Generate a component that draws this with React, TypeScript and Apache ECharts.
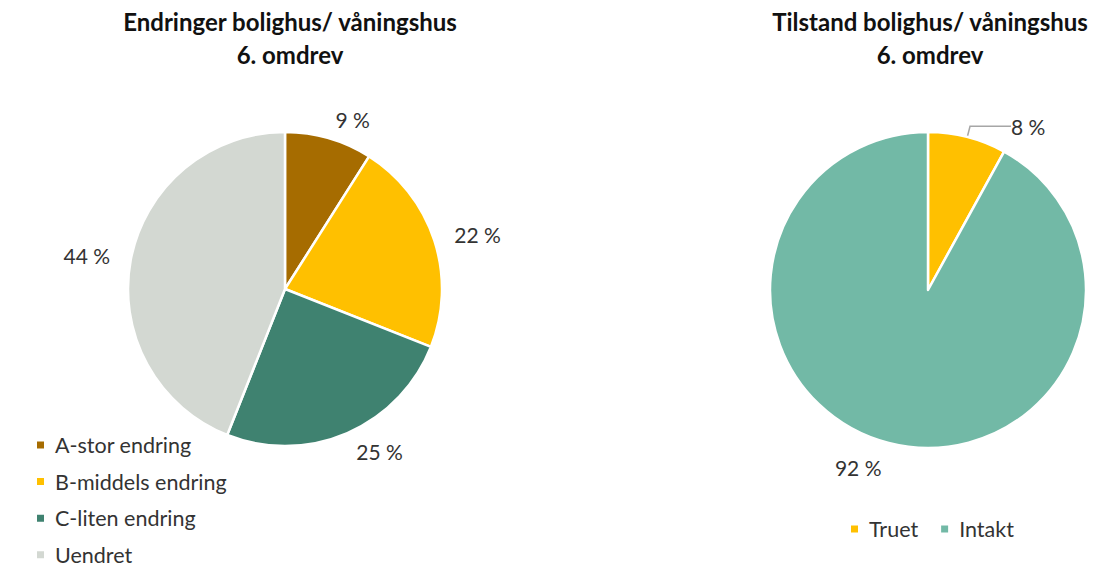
import React, { useEffect, useRef } from "react";
import * as echarts from "echarts";

const leftTitle = "Endringer bolighus/ våningshus\n6. omdrev";
const rightTitle = "Tilstand bolighus/ våningshus\n6. omdrev";
const leftCategories = ["A-stor endring", "B-middels endring", "C-liten endring", "Uendret"];
const leftValues = [9, 22, 25, 44];
const leftColors = ["#A66C00", "#FFC000", "#3F8270", "#D3D8D2"];
const rightCategories = ["Truet", "Intakt"];
const rightValues = [8, 92];
const rightColors = ["#FFC000", "#72B9A6"];

const FONT = "Lato, 'Open Sans', sans-serif";

export default function App() {
  const ref = useRef<HTMLDivElement>(null);
  useEffect(() => {
    document.body.style.margin = "0";
    const chart = echarts.init(ref.current!, null, { renderer: "svg" });
    const labelStyle = {
      fontFamily: FONT,
      fontSize: 21,
      color: "#333333",
      distanceToLabelLine: 0,
      formatter: (p: any) => `${p.value} %`,
    };
    const titleStyle = { fontFamily: FONT, fontSize: 24, fontWeight: "bold", color: "#111111", lineHeight: 33 };
    const legendText = { fontFamily: FONT, fontSize: 21.5, lineHeight: 20, color: "#333333", padding: [0, 0, 0, 5] };
    const leftLegends = leftCategories.map((name, i) => ({
      data: [name],
      orient: "vertical",
      left: 35,
      top: 434 + i * 36.6,
      padding: 0,
      itemWidth: 9,
      itemHeight: 9,
      icon: "rect",
      textStyle: legendText,
    }));
    chart.setOption({
      animation: false,
      backgroundColor: "#ffffff",
      title: [
        { text: leftTitle, left: 285, top: 0, textAlign: "center", textStyle: titleStyle },
        { text: rightTitle, left: 925, top: 0, textAlign: "center", textStyle: titleStyle },
      ],
      legend: [
        ...leftLegends,
        {
          data: rightCategories,
          orient: "horizontal",
          left: 849,
          top: 518,
          padding: 0,
          itemWidth: 9,
          itemHeight: 9,
          itemGap: 21,
          icon: "rect",
          textStyle: legendText,
        },
      ],
      series: [
        {
          type: "pie",
          center: [285, 289],
          radius: 157,
          startAngle: 90,
          clockwise: true,
          itemStyle: { borderColor: "#ffffff", borderWidth: 2.5 },
          label: { show: true, position: "outside", ...labelStyle },
          labelLine: { show: false, length: 20, length2: 1 },
          emphasis: { disabled: true },
          data: leftCategories.map((name, i) => ({
            name,
            value: leftValues[i],
            itemStyle: { color: leftColors[i] },
          })),
        },
        {
          type: "pie",
          center: [928, 290],
          radius: 158,
          startAngle: 90,
          clockwise: true,
          itemStyle: { borderColor: "#ffffff", borderWidth: 2.5 },
          label: { show: true, position: "outside", ...labelStyle },
          labelLine: { show: false, length: 25, length2: 1 },
          emphasis: { disabled: true },
          data: rightCategories.map((name, i) => ({
            name,
            value: rightValues[i],
            itemStyle: { color: rightColors[i] },
            labelLine:
              i === 0
                ? { show: true, length: 11, length2: 41, lineStyle: { color: "#a6a6a6", width: 1.5 } }
                : undefined,
          })),
        },
      ],
    });
    return () => chart.dispose();
  }, []);
  return <div ref={ref} style={{ width: 1096, height: 570, position: "absolute", left: 0, top: 0 }} />;
}
